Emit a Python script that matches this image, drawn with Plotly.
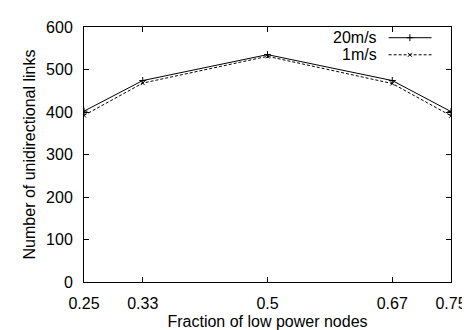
import plotly.graph_objects as go

fractions = [0.25, 0.33, 0.5, 0.67, 0.75]
x_tick_labels = ["0.25", "0.33", "0.5", "0.67", "0.75"]
links_20ms = [402, 474, 535, 474, 401]
links_1ms = [392, 468, 531, 467, 391]
y_ticks = [0, 100, 200, 300, 400, 500, 600]
series_names = ["20m/s", "1m/s"]

FONT = "Liberation Sans, Arial, Helvetica, sans-serif"
FS = 16

fig = go.Figure()
fig.add_trace(go.Scatter(
    x=fractions, y=links_20ms, mode="lines+markers", name=series_names[0],
    line=dict(color="black", width=1),
    marker=dict(symbol="cross-thin", size=5, line=dict(color="black", width=1)),
    showlegend=False))
fig.add_trace(go.Scatter(
    x=fractions, y=links_1ms, mode="lines+markers", name=series_names[1],
    line=dict(color="black", width=1, dash="3px,2px"),
    marker=dict(symbol="x-thin", size=4, line=dict(color="black", width=1)),
    showlegend=False))

# legend samples (gnuplot style: text on the left, line sample on the right)
leg_y = [0.958, 0.891]
leg_styles = [
    (dict(color="black", width=1), "cross-thin", 5),
    (dict(color="black", width=1, dash="3px,2px"), "x-thin", 4),
]
for name, ly, (lst, sym, sz) in zip(series_names, leg_y, leg_styles):
    fig.add_trace(go.Scatter(
        x=[0.830, 0.947], y=[ly, ly], mode="lines", line=lst,
        xaxis="x2", yaxis="y2", showlegend=False, hoverinfo="skip"))
    fig.add_trace(go.Scatter(
        x=[0.888], y=[ly], mode="markers",
        marker=dict(symbol=sym, size=sz, line=dict(color="black", width=1)),
        xaxis="x2", yaxis="y2", showlegend=False, hoverinfo="skip"))
    fig.add_annotation(x=0.804, y=ly, xref="paper", yref="paper", text=name,
                       showarrow=False, xanchor="right", yanchor="middle",
                       font=dict(family=FONT, size=FS, color="black"))

axis_common = dict(showline=True, linecolor="black", linewidth=1, mirror="ticks",
                   ticks="inside", ticklen=5, tickcolor="black", tickwidth=1,
                   showgrid=False, zeroline=False,
                   tickfont=dict(family=FONT, size=FS, color="black"))

fig.update_layout(
    width=470, height=330,
    margin=dict(l=76, r=17, t=11, b=54),
    paper_bgcolor="white", plot_bgcolor="white",
    xaxis=dict(range=[0.25, 0.75], tickvals=fractions, ticktext=x_tick_labels,
               ticklabelstandoff=7,
               title=dict(text="Fraction of low power nodes", standoff=4,
                          font=dict(family=FONT, size=FS, color="black")),
               **axis_common),
    yaxis=dict(range=[0, 600], tickvals=y_ticks,
               title=dict(text="Number of unidirectional links", standoff=6,
                          font=dict(family=FONT, size=FS, color="black")),
               ticklabelstandoff=7,
               **axis_common),
    xaxis2=dict(range=[0, 1], overlaying="x", visible=False),
    yaxis2=dict(range=[0, 1], overlaying="y", visible=False),
)

fig.write_html("out.html")
